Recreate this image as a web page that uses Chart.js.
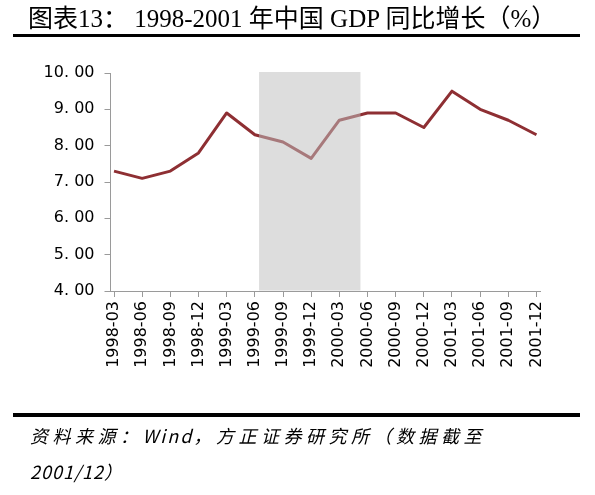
<!DOCTYPE html>
<html>
<head>
<meta charset="utf-8">
<script src="https://cdn.jsdelivr.net/npm/chart.js@4"></script>
<style>
  html, body { margin: 0; padding: 0; background: #fff; }
  body { width: 595px; height: 495px; position: relative; overflow: hidden; }
  #titulo {
    position: absolute; left: 28px; top: 4px;
    font: 25px "Liberation Serif", "Noto Sans CJK SC", serif;
    line-height: 30px; color: #000; white-space: nowrap;
  }
  .regua { position: absolute; left: 13px; width: 567px; background: #000; }
  #fonte {
    position: absolute; left: 30px; top: 417px;
    font: italic 18px "Noto Sans CJK SC", sans-serif;
    letter-spacing: 4.5px; line-height: 36px; color: #000;
  }
  #fonte .lat { letter-spacing: 2px; }
  #fonte .data { letter-spacing: 1px; }
  #caixa { position: absolute; left: 0; top: 0; width: 595px; height: 495px; }
</style>
</head>
<body>
<div id="caixa"><canvas id="graficoPib"></canvas></div>
<div id="titulo">图表13： 1998-2001 年中国 GDP 同比增长（%）</div>
<div class="regua" style="top:34px;height:3px"></div>
<div class="regua" style="top:413px;height:4px"></div>
<div id="fonte">资料来源：<span class="lat">Wind</span>，方正证券研究所（数据截至<br><span class="data">2001/12）</span></div>
<script>
// trimestres e crescimento do PIB (% a/a)
const periodos = ["1998-03", "1998-06", "1998-09", "1998-12",
                  "1999-03", "1999-06", "1999-09", "1999-12",
                  "2000-03", "2000-06", "2000-09", "2000-12",
                  "2001-03", "2001-06", "2001-09", "2001-12"];
const pibAnual = [7.3, 7.1, 7.3, 7.8,
                  8.9, 8.3, 8.1, 7.65,
                  8.7, 8.9, 8.9, 8.5,
                  9.5, 9.0, 8.7, 8.3];
const eixoY = [4, 5, 6, 7, 8, 9, 10];

// faixa cinza (em índices de trimestre)
const faixaInicio = 5.15;
const faixaFim = 8.75;

const faixaCinza = {
    id: "faixaCinza",
    afterDatasetsDraw(chart) {
        const { ctx, chartArea, scales } = chart;
        const x0 = scales.x.getPixelForValue(faixaInicio);
        const x1 = scales.x.getPixelForValue(faixaFim);
        ctx.save();
        ctx.fillStyle = "rgba(190, 190, 190, 0.52)";
        ctx.fillRect(x0, chartArea.top - 1, x1 - x0, chartArea.bottom - chartArea.top + 0.5);
        ctx.restore();
    }
};

const corEixo = "#9a9a9a";

new Chart(document.getElementById("graficoPib"), {
    type: "line",
    data: {
        datasets: [{
            label: "GDP",
            data: periodos.map((p, i) => ({ x: i, y: pibAnual[i] })),
            borderColor: "#8E2F33",
            borderWidth: 3,
            pointRadius: 0,
            tension: 0,
            borderJoinStyle: "round"
        }]
    },
    options: {
        responsive: true,
        maintainAspectRatio: false,
        animation: false,
        layout: { padding: { top: 73, right: 55, left: 0, bottom: 104 } },
        plugins: { legend: { display: false }, tooltip: { enabled: false } },
        scales: {
            x: {
                type: "linear",
                min: -0.125,
                max: periodos.length - 1 + 0.125,
                afterFit: s => { s.height = 100; },
                afterBuildTicks: s => { s.ticks = periodos.map((p, i) => ({ value: i })); },
                grid: { drawOnChartArea: false, tickLength: 6, color: corEixo },
                border: { color: corEixo, width: 1 },
                ticks: {
                    autoSkip: false,
                    minRotation: 90,
                    maxRotation: 90,
                    padding: 4,
                    color: "#000",
                    font: { family: "DejaVu Sans", size: 16 },
                    callback: v => periodos[v]
                }
            },
            y: {
                min: 4,
                max: 10,
                afterFit: s => { s.width = 110.5; },
                afterBuildTicks: s => { s.ticks = eixoY.map(v => ({ value: v })); },
                grid: { drawOnChartArea: false, tickLength: 6, color: corEixo },
                border: { color: corEixo, width: 1 },
                ticks: {
                    padding: 10,
                    color: "#000",
                    font: { family: "DejaVu Sans", size: 16 },
                    callback: v => v.toFixed(2).replace(".", ". ")
                }
            }
        }
    },
    plugins: [faixaCinza]
});
</script>
</body>
</html>
